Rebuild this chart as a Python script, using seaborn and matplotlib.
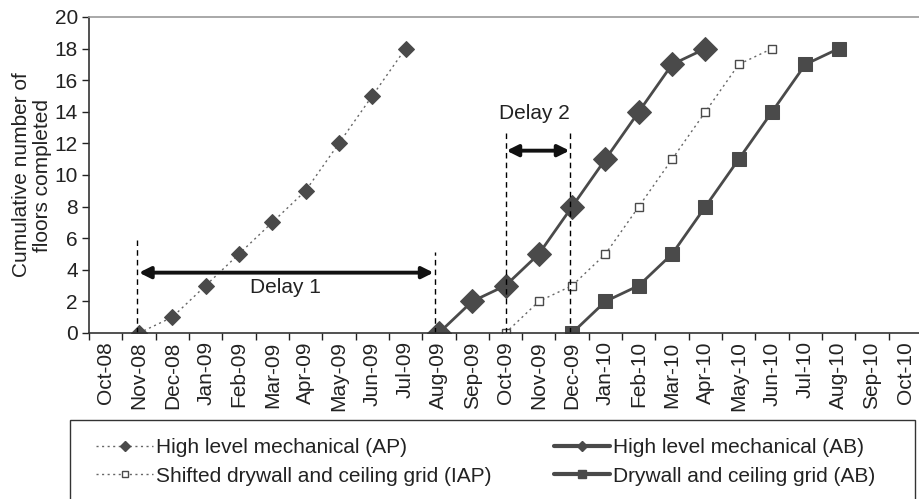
import numpy as np
import pandas as pd
import seaborn as sns
import matplotlib
matplotlib.use("Agg")
import matplotlib.pyplot as plt
from matplotlib.patches import Rectangle
from matplotlib.lines import Line2D

# Month categories on the x axis
months = ["Oct-08", "Nov-08", "Dec-08", "Jan-09", "Feb-09", "Mar-09", "Apr-09",
          "May-09", "Jun-09", "Jul-09", "Aug-09", "Sep-09", "Oct-09", "Nov-09",
          "Dec-09", "Jan-10", "Feb-10", "Mar-10", "Apr-10", "May-10", "Jun-10",
          "Jul-10", "Aug-10", "Sep-10", "Oct-10"]

# Cumulative floors completed per series
mech_ap_months = ["Nov-08", "Dec-08", "Jan-09", "Feb-09", "Mar-09", "Apr-09",
                  "May-09", "Jun-09", "Jul-09"]
mech_ap_floors = [0, 1, 3, 5, 7, 9, 12, 15, 18]

mech_ab_months = ["Aug-09", "Sep-09", "Oct-09", "Nov-09", "Dec-09", "Jan-10",
                  "Feb-10", "Mar-10", "Apr-10"]
mech_ab_floors = [0, 2, 3, 5, 8, 11, 14, 17, 18]

dry_iap_months = ["Oct-09", "Nov-09", "Dec-09", "Jan-10", "Feb-10", "Mar-10",
                  "Apr-10", "May-10", "Jun-10"]
dry_iap_floors = [0, 2, 3, 5, 8, 11, 14, 17, 18]

dry_ab_months = ["Dec-09", "Jan-10", "Feb-10", "Mar-10", "Apr-10", "May-10",
                 "Jun-10", "Jul-10", "Aug-10"]
dry_ab_floors = [0, 2, 3, 5, 8, 11, 14, 17, 18]

labels = ["High level mechanical (AP)", "High level mechanical (AB)",
          "Shifted drywall and ceiling grid (IAP)", "Drywall and ceiling grid (AB)"]

sns.set_style("ticks")
plt.rcParams["font.family"] = ["Liberation Sans", "DejaVu Sans"]
plt.rcParams["font.size"] = 15

pos = {m: i for i, m in enumerate(months)}

def frame(mlist, vals, name):
    return pd.DataFrame({"x": [pos[m] for m in mlist], "y": vals, "series": name})

df_ap = frame(mech_ap_months, mech_ap_floors, labels[0])
df_ab = frame(mech_ab_months, mech_ab_floors, labels[1])
df_iap = frame(dry_iap_months, dry_iap_floors, labels[2])
df_dab = frame(dry_ab_months, dry_ab_floors, labels[3])

fig = plt.figure(figsize=(9.2, 4.99), dpi=100)
ax = fig.add_axes([89 / 920, 1 - 333 / 499, 833 / 920, 316 / 499])

dark = "#4a4a4a"
dotted = (0, (1.5, 2.5))
sns.lineplot(data=df_ap, x="x", y="y", ax=ax, color="#666666", linestyle=dotted,
             linewidth=1.0, marker="D", markersize=8, markerfacecolor=dark,
             markeredgecolor=dark, legend=False)
sns.lineplot(data=df_ab, x="x", y="y", ax=ax, color=dark, linestyle="-",
             linewidth=2.0, marker="D", markersize=12, markerfacecolor=dark,
             markeredgecolor=dark, legend=False)
sns.lineplot(data=df_iap, x="x", y="y", ax=ax, color="#666666", linestyle=dotted,
             linewidth=1.0, marker="s", markersize=6, markerfacecolor="white",
             markeredgecolor=dark, markeredgewidth=1.0, legend=False)
sns.lineplot(data=df_dab, x="x", y="y", ax=ax, color=dark, linestyle="-",
             linewidth=2.0, marker="s", markersize=10, markerfacecolor=dark,
             markeredgecolor=dark, legend=False)

ax.set_xlim(-0.5, len(months) - 0.5)
ax.set_ylim(0, 20)
ax.set_yticks(np.arange(0, 21, 2))
ax.set_xticks(np.arange(len(months)))
ax.set_xticklabels(months, rotation=90)
ax.set_xticks(np.arange(len(months) + 1) - 0.5, minor=True)
ax.tick_params(axis="x", which="major", length=0, pad=6, labelsize=15, colors="#222222")
ax.tick_params(axis="x", which="minor", length=5, width=1, color="#222222", direction="out")
ax.tick_params(axis="y", length=5, width=1, labelsize=15, colors="#222222", pad=3)
ax.set_xlabel("")
ax.set_ylabel("Cumulative number of\nfloors completed", fontsize=15, color="#222222",
              labelpad=2, linespacing=1.1)

for side in ["left", "bottom"]:
    ax.spines[side].set_color("#333333")
    ax.spines[side].set_linewidth(1.2)
ax.spines["top"].set_visible(True)
ax.spines["top"].set_color("#999999")
ax.spines["top"].set_linewidth(1.2)
ax.spines["right"].set_visible(False)

# Delay markers
dash = (0, (4, 3))
ax.plot([0.93, 0.93], [0, 5.9], color="black", linewidth=1.0, linestyle=dash)
ax.plot([9.88, 9.88], [0, 5.1], color="black", linewidth=1.0, linestyle=dash)
ax.annotate("", xy=(1.0, 3.82), xytext=(9.84, 3.82),
            arrowprops=dict(arrowstyle="<|-|>", color="#111111", lw=2.8,
                            mutation_scale=17, shrinkA=0, shrinkB=0))
ax.text(5.41, 2.85, "Delay 1", ha="center", va="center", fontsize=15, color="#222222")

ax.plot([12.0, 12.0], [0, 12.65], color="black", linewidth=1.0, linestyle=dash)
ax.plot([13.95, 13.95], [0, 12.65], color="black", linewidth=1.0, linestyle=dash)
ax.annotate("", xy=(12.03, 11.54), xytext=(13.92, 11.54),
            arrowprops=dict(arrowstyle="<|-|>", color="#111111", lw=2.8,
                            mutation_scale=17, shrinkA=0, shrinkB=0))
ax.text(12.88, 13.9, "Delay 2", ha="center", va="center", fontsize=15, color="#222222")

# Legend with its own frame below the axis (filled column by column)
h_ap = Line2D([], [], color="#666666", linestyle=dotted, linewidth=1.0,
              marker="D", markersize=5, markerfacecolor=dark, markeredgecolor=dark)
h_ab = Line2D([], [], color=dark, linestyle="-", linewidth=3.0,
              marker="D", markersize=5, markerfacecolor=dark, markeredgecolor=dark)
h_iap = Line2D([], [], color="#666666", linestyle=dotted, linewidth=1.0,
               marker="s", markersize=5, markerfacecolor="white", markeredgecolor=dark)
h_dab = Line2D([], [], color=dark, linestyle="-", linewidth=3.0,
               marker="s", markersize=6, markerfacecolor=dark, markeredgecolor=dark)
fig.legend(handles=[h_ap, h_iap, h_ab, h_dab],
           labels=[labels[0], labels[2], labels[1], labels[3]], ncol=2, frameon=False,
           loc="upper left", bbox_to_anchor=(86 / 920, 1 - 428 / 499),
           bbox_transform=fig.transFigure, fontsize=15, handlelength=2.7,
           handletextpad=0.15, columnspacing=3.0, labelspacing=0.45,
           borderpad=0.0, labelcolor="#222222")
fig.patches.append(Rectangle((70 / 920, 1 - 515 / 499), 845 / 920, 95 / 499,
                             transform=fig.transFigure, fill=False,
                             edgecolor="#333333", linewidth=1.0))

fig.savefig("out.png", dpi=100)
